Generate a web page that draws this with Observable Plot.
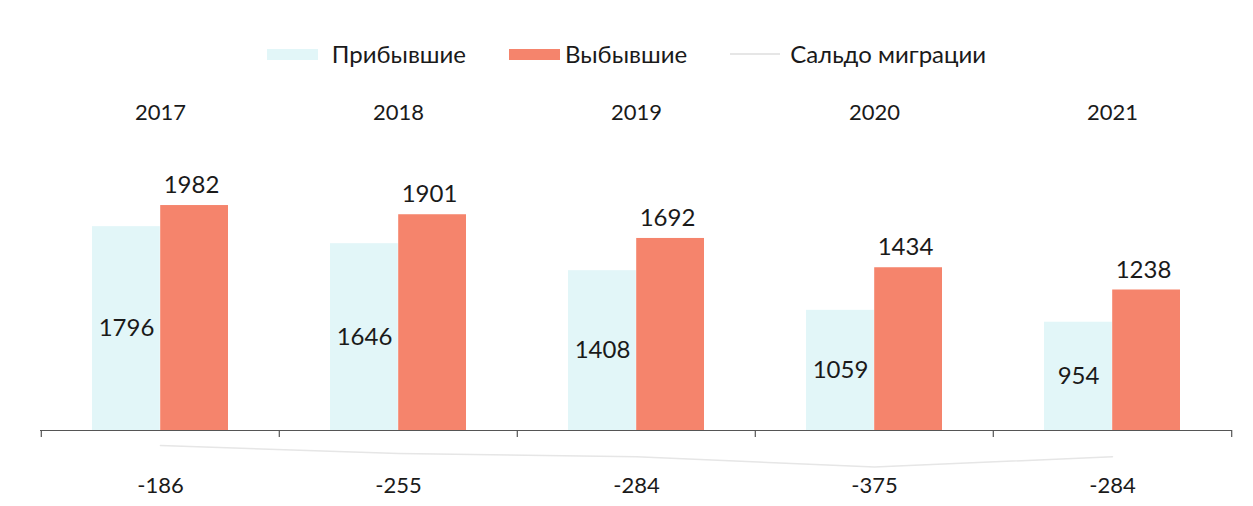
<!DOCTYPE html>
<html>
<head>
<meta charset="utf-8">
<script src="https://cdn.jsdelivr.net/npm/d3@7"></script>
<script src="https://cdn.jsdelivr.net/npm/@observablehq/plot@0.6"></script>
<style>
  html, body { margin: 0; padding: 0; background: #ffffff; }
  body { width: 1253px; height: 506px; overflow: hidden; font-family: Lato, "Noto Sans", sans-serif; color: #1a1a1a; }
  #legend { height: 80px; display: flex; justify-content: center; align-items: flex-start; box-sizing: border-box; padding-top: 39px; font-size: 24px; line-height: 30px; }
  .item { display: flex; align-items: center; }
  .sw { width: 51px; height: 11px; }
  .ln { width: 50px; height: 2px; }
  #chart svg { display: block; }
</style>
</head>
<body>
<div id="legend"></div>
<div id="chart"></div>
<script>
const years = ["2017", "2018", "2019", "2020", "2021"];
const arrived = [1796, 1646, 1408, 1059, 954];
const departed = [1982, 1901, 1692, 1434, 1238];
const balance = [-186, -255, -284, -375, -284];
const seriesNames = ["Прибывшие", "Выбывшие", "Сальдо миграции"];
const colors = ["#e2f6f8", "#f5846c", "#e6e6e6"];

const arrivedData = years.map((year, i) => ({year, value: arrived[i]}));
const departedData = years.map((year, i) => ({year, value: departed[i]}));
const balanceData = years.map((year, i) => ({year, value: balance[i]}));

// legend
const legend = document.getElementById("legend");
const swGap = [14, 5, 10];
seriesNames.forEach((name, i) => {
  const item = document.createElement("div");
  item.className = "item";
  if (i > 0) item.style.marginLeft = "43px";
  const sw = document.createElement("div");
  sw.className = i === 2 ? "ln" : "sw";
  sw.style.background = colors[i];
  sw.style.marginRight = swGap[i] + "px";
  item.appendChild(sw);
  const t = document.createElement("span");
  t.textContent = name;
  item.appendChild(t);
  legend.appendChild(item);
});

const half = (1253 - 40 - 21) / years.length / 2;

const chart = Plot.plot({
  width: 1253,
  height: 426,
  marginLeft: 40,
  marginRight: 21,
  marginTop: 123,
  marginBottom: 76,
  style: {fontFamily: "Lato, 'Noto Sans', sans-serif", color: "#1a1a1a", background: "transparent"},
  x: {domain: years, padding: 0, label: null},
  y: {domain: [0, 2000], axis: null},
  marks: [
    Plot.barY(arrivedData, {x: "year", y: "value", fill: colors[0], insetLeft: 51, insetRight: half}),
    Plot.barY(departedData, {x: "year", y: "value", fill: colors[1], insetLeft: half, insetRight: 51}),
    Plot.line(balanceData, {x: "year", y: "value", stroke: colors[2], strokeWidth: 1.5, dy: -6}),
    Plot.ruleY([0], {stroke: "#555", strokeWidth: 1.2}),
    Plot.ruleX(years, {x: d => d, y1: 0, y2: -62, dx: -half, stroke: "#555", strokeWidth: 1.2}),
    Plot.ruleX([years[years.length - 1]], {x: d => d, y1: 0, y2: -62, dx: half, stroke: "#555", strokeWidth: 1.2}),
    Plot.text(arrivedData, {x: "year", y: d => d.value / 2, text: d => String(d.value), dx: -34, fontSize: 24, fill: "#1a1a1a"}),
    Plot.text(departedData, {x: "year", y: "value", text: d => String(d.value), dx: 31, dy: -20, fontSize: 24, fill: "#1a1a1a"}),
    Plot.text(balanceData, {x: "year", text: d => String(d.value), frameAnchor: "bottom", dy: 62, fontSize: 22, fill: "#1a1a1a"}),
    Plot.axisX({anchor: "top", tickSize: 0, tickPadding: 84, fontSize: 22, fill: "#1a1a1a", label: null})
  ]
});
document.getElementById("chart").appendChild(chart);
</script>
</body>
</html>
